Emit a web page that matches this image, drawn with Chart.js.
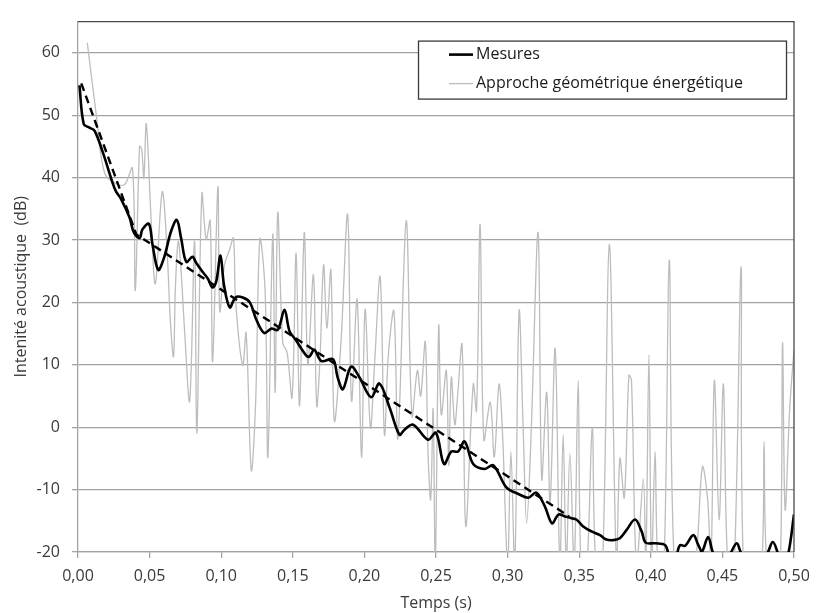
<!DOCTYPE html>
<html lang="fr">
<head>
<meta charset="utf-8">
<script src="https://cdn.jsdelivr.net/npm/chart.js@4.4.1/dist/chart.umd.min.js"></script>
<style>
  html, body { margin: 0; padding: 0; background: #fff; }
</style>
</head>
<body>
<canvas id="graphe" width="822" height="613"></canvas>
<script>
// Mesures (trait noir épais)
const tempsMesures = [0.001, 0.004, 0.008, 0.0116, 0.0174, 0.0244, 0.0267, 0.030, 0.036, 0.039, 0.043, 0.045, 0.0495, 0.052, 0.056, 0.060, 0.065, 0.069, 0.072, 0.0756, 0.080, 0.0826, 0.087, 0.0907, 0.094, 0.0965, 0.0995, 0.102, 0.106, 0.110, 0.115, 0.120, 0.1244, 0.130, 0.135, 0.1395, 0.1442, 0.1477, 0.152, 0.159, 0.1616, 0.165, 0.170, 0.178, 0.1813, 0.185, 0.1907, 0.1965, 0.2047, 0.2105, 0.2175, 0.2245, 0.228, 0.234, 0.2444, 0.250, 0.2556, 0.2607, 0.2654, 0.270, 0.276, 0.284, 0.290, 0.2993, 0.3075, 0.3145, 0.320, 0.326, 0.331, 0.3355, 0.340, 0.3446, 0.348, 0.3528, 0.3586, 0.3645, 0.369, 0.3738, 0.3784, 0.383, 0.389, 0.3936, 0.3964, 0.403, 0.410, 0.4125, 0.415, 0.418, 0.4204, 0.424, 0.4297, 0.4332, 0.4358, 0.440, 0.4437, 0.449, 0.4554, 0.460, 0.4635, 0.472, 0.481, 0.4852, 0.489, 0.4925, 0.496, 0.500];
const mesures = [54.8, 48.6, 48.0, 47.5, 44.0, 39.0, 37.7, 36.6, 33.6, 31.2, 30.3, 31.7, 32.6, 29.3, 25.2, 27.1, 31.4, 33.2, 30.3, 26.5, 27.3, 26.3, 24.9, 23.8, 22.4, 23.3, 27.5, 22.7, 19.2, 20.8, 20.8, 20.0, 17.3, 15.1, 15.8, 15.6, 18.8, 15.4, 14.0, 11.6, 11.3, 12.4, 10.6, 10.9, 8.0, 6.1, 9.7, 8.0, 4.8, 7.0, 3.2, -1.2, -0.4, 0.4, -2.0, -0.9, -5.9, -3.9, -3.9, -2.3, -5.9, -6.7, -6.1, -9.7, -10.7, -11.3, -10.5, -12.7, -15.4, -14.0, -14.3, -14.6, -14.8, -15.9, -16.7, -17.3, -18.0, -18.1, -17.8, -16.5, -14.8, -16.7, -18.5, -18.6, -18.9, -20.5, -22, -20.5, -18.9, -19.0, -17.3, -18.9, -19.9, -17.6, -20.3, -22, -20.3, -18.6, -20.3, -22, -20.3, -18.4, -20.3, -22, -20.3, -14.0];

// Approche géométrique énergétique (trait gris fin)
const tempsApproche = [0.0065, 0.0128, 0.0186, 0.0267, 0.0326, 0.038, 0.040, 0.043, 0.0445, 0.046, 0.0477, 0.051, 0.054, 0.0588, 0.062, 0.0645, 0.0667, 0.068, 0.070, 0.072, 0.0744, 0.078, 0.0814, 0.083, 0.0865, 0.0895, 0.0923, 0.094, 0.0977, 0.099, 0.1023, 0.1058, 0.1086, 0.110, 0.115, 0.1174, 0.121, 0.124, 0.127, 0.1307, 0.1326, 0.136, 0.1377, 0.1395, 0.143, 0.146, 0.1495, 0.1523, 0.1547, 0.158, 0.1605, 0.1644, 0.1667, 0.169, 0.1715, 0.1738, 0.1766, 0.179, 0.1836, 0.1883, 0.191, 0.1949, 0.198, 0.2005, 0.2042, 0.207, 0.211, 0.214, 0.2168, 0.2206, 0.2234, 0.2292, 0.2332, 0.237, 0.2393, 0.2425, 0.2444, 0.2463, 0.248, 0.2495, 0.2519, 0.2537, 0.2572, 0.2589, 0.2607, 0.2631, 0.265, 0.2682, 0.2708, 0.276, 0.2783, 0.2808, 0.2834, 0.2879, 0.2907, 0.294, 0.2965, 0.300, 0.3023, 0.305, 0.308, 0.311, 0.3133, 0.3164, 0.3213, 0.3238, 0.3273, 0.3297, 0.3332, 0.3365, 0.3388, 0.341, 0.3435, 0.3465, 0.3493, 0.3512, 0.355, 0.3591, 0.3615, 0.366, 0.371, 0.376, 0.3784, 0.3815, 0.3847, 0.3865, 0.390, 0.3948, 0.3965, 0.3987, 0.4005, 0.403, 0.405, 0.409, 0.4129, 0.4164, 0.424, 0.431, 0.436, 0.4397, 0.442, 0.4444, 0.4477, 0.4507, 0.4537, 0.458, 0.463, 0.4647, 0.472, 0.4775, 0.4791, 0.481, 0.487, 0.4905, 0.492, 0.4938, 0.497, 0.500];
const approche = [61.6, 50.0, 40.7, 39.0, 38.9, 41.5, 21.9, 45.0, 44.5, 39.9, 48.6, 33.6, 23.0, 37.7, 29.3, 17.0, 11.3, 22.2, 29.8, 25.0, 15.6, 4.2, 29.8, -0.9, 37.4, 30.1, 33.1, 10.5, 38.5, 18.6, 26.0, 28.4, 30.3, 20.5, 9.9, 15.1, -6.9, 3.7, 30.1, 21.6, -4.8, 30.9, 5.6, 34.4, 13.5, 12.0, 4.8, 27.9, 3.4, 31.2, 10.0, 24.4, 3.4, 11.0, 26.0, 15.9, 25.2, 1.0, 13.5, 34.1, 4.2, 20.5, -4.8, 18.9, -0.1, 9.7, 24.1, -1.2, 11.8, 18.6, -1.8, 33.1, 1.8, 9.1, 5.0, 13.7, -3.9, -11.6, 2.9, -22, 16.2, 2.0, 9.1, -6.1, 8.0, 0.4, 4.8, 13.2, -15.9, 6.9, 2.6, 32.5, -2.0, 4.0, -4.8, 6.9, -1.2, -22, -3.9, -22, 18.6, -1.2, -15.4, -1.2, 31.2, -8.3, 5.6, -12.1, 12.6, -22, -1.2, -22, -4.2, -22, 7.5, -22, -24, -0.1, -22, -24, 29.3, -22, -5.0, -11.3, 8.3, 7.5, -22, -8.3, -22, 11.6, -22, -3.9, -22, -24, 26.8, -22, -26, -22, -6.4, -11.6, -22, 7.5, -14.8, 6.9, -22, -24, 25.7, -22, -26, -22, -2.3, -22, -26, -22, 13.5, -13.2, 3.0, 12.4];

// Droite de décroissance (tirets)
const tempsDroite = [0.0023, 0.0407, 0.343];
const droite = [55.1, 30.9, -14.3];

// Graduations
const ticksTemps = { min: 0, max: 0.5, pas: 0.05 };
const ticksIntensite = { min: -20, max: 65, pas: 10 };

const paires = (xs, ys) => xs.map((x, i) => ({ x: x, y: ys[i] }));

const police = { family: "'Open Sans', sans-serif", size: 16 };
const couleurTexte = '#3a3a3a';
const couleurGrille = '#a3a3a3';

// cadre haut/droite + légende encadrée dans la zone du graphe
const cadreEtLegende = {
  id: 'cadreEtLegende',
  afterDraw(chart) {
    const ctx = chart.ctx;
    const a = chart.chartArea;
    ctx.save();
    ctx.strokeStyle = '#4a4a4a';
    ctx.lineWidth = 1.3;
    ctx.beginPath();
    ctx.moveTo(a.left, a.top);
    ctx.lineTo(a.right, a.top);
    ctx.lineTo(a.right, a.bottom);
    ctx.stroke();

    const bx = a.right - 376, by = a.top + 19, bw = 368, bh = 58;
    ctx.fillStyle = '#fff';
    ctx.fillRect(bx, by, bw, bh);
    ctx.strokeStyle = '#3a3a3a';
    ctx.lineWidth = 1.3;
    ctx.strokeRect(bx + 0.5, by + 0.5, bw, bh);

    const items = chart.data.datasets.filter(d => d.dansLegende);
    ctx.font = police.size + 'px ' + police.family;
    ctx.textBaseline = 'middle';
    ctx.fillStyle = '#1a1a1a';
    items.forEach((d, i) => {
      const y = by + 14 + i * 29;
      ctx.strokeStyle = d.borderColor;
      ctx.lineWidth = d.borderWidth;
      ctx.beginPath();
      ctx.moveTo(bx + 31, y);
      ctx.lineTo(bx + 55, y);
      ctx.stroke();
      ctx.fillText(d.label, bx + 58, y);
    });
    ctx.restore();
  }
};

new Chart(document.getElementById('graphe'), {
  type: 'line',
  data: {
    datasets: [
      {
        label: 'Mesures',
        data: paires(tempsMesures, mesures),
        borderColor: '#000',
        borderWidth: 2.6,
        tension: 0.35,
        pointRadius: 0,
        clip: 0,
        order: 0,
        dansLegende: true
      },
      {
        label: 'Approche géométrique énergétique',
        data: paires(tempsApproche, approche),
        borderColor: '#bdbdbd',
        borderWidth: 1.3,
        tension: 0.35,
        pointRadius: 0,
        clip: 0,
        order: 2,
        dansLegende: true
      },
      {
        label: 'Régression',
        data: paires(tempsDroite, droite),
        borderColor: '#000',
        borderWidth: 2.4,
        borderDash: [8, 5],
        tension: 0,
        pointRadius: 0,
        clip: 0,
        order: 1,
        dansLegende: false
      }
    ]
  },
  options: {
    responsive: false,
    animation: false,
    layout: { padding: { top: 15, right: 28, left: 0, bottom: 0 } },
    plugins: {
      legend: { display: false },
      tooltip: { enabled: false }
    },
    scales: {
      x: {
        type: 'linear',
        min: ticksTemps.min,
        max: ticksTemps.max,
        afterFit: s => { s.height = 61; },
        ticks: {
          stepSize: ticksTemps.pas,
          includeBounds: false,
          padding: 9,
          color: couleurTexte,
          font: police,
          maxRotation: 0,
          callback: v => v.toFixed(2).replace('.', ',')
        },
        grid: { drawOnChartArea: false, drawTicks: true, tickLength: 6, color: couleurGrille, lineWidth: 1.3 },
        border: { color: couleurGrille, width: 1.3 },
        title: { display: true, text: 'Temps (s)', color: couleurTexte, font: police, padding: { top: 0, bottom: 0 } }
      },
      y: {
        min: ticksIntensite.min,
        max: ticksIntensite.max,
        afterFit: s => { s.width = 78; },
        ticks: {
          stepSize: ticksIntensite.pas,
          includeBounds: false,
          padding: 12,
          color: couleurTexte,
          font: police,
          callback: v => String(v)
        },
        grid: { drawTicks: true, tickLength: 6, color: couleurGrille, lineWidth: 1.3 },
        border: { color: couleurGrille, width: 1.3 },
        title: { display: true, text: 'Intenité acoustique  (dB)', color: couleurTexte, font: police, padding: { top: 12, bottom: 0 } }
      }
    }
  },
  plugins: [cadreEtLegende]
});
</script>
</body>
</html>
